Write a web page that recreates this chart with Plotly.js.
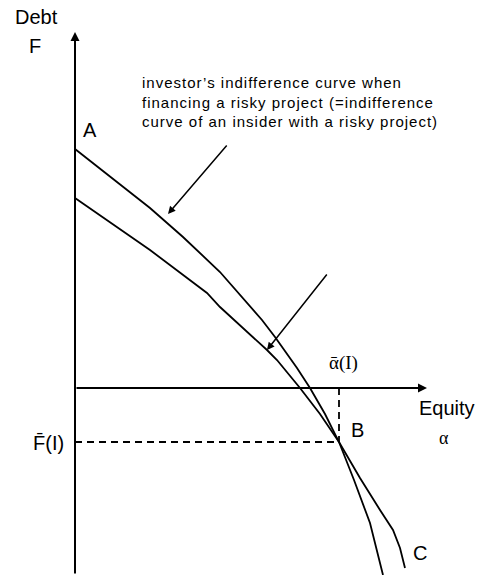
<!DOCTYPE html>
<html>
<head>
<meta charset="utf-8">
<script src="https://cdn.plot.ly/plotly-3.0.1.min.js"></script>
<style>html,body{margin:0;padding:0;background:#fff;}</style>
</head>
<body>
<div id="chart" style="width:479px;height:575px;"></div>
<script>
// Investor's indifference curve (risky project) – starts at A
const investorAlpha = [0, 0.40, 0.75, 1.08, 1.45, 1.87, 2.00, 2.22, 2.35, 2.50, 2.64, 2.79, 2.95, 3.08];
const investorF     = [2.39, 2.08, 1.80, 1.51, 1.16, 0.68, 0.51, 0.20, 0, -0.26, -0.54, -0.92, -1.35, -1.87];
// Second indifference curve – ends at C
const otherAlpha = [0, 0.35, 0.75, 1.32, 1.45, 1.92, 2.02, 2.25, 2.45, 2.64, 2.85, 3.05, 3.18, 3.25, 3.30];
const otherF     = [1.90, 1.66, 1.38, 0.95, 0.81, 0.38, 0.28, 0, -0.26, -0.54, -0.90, -1.22, -1.42, -1.60, -1.80];
// Point B: (alpha-bar(I), F-bar(I))
const alphaBar = 2.64;
const FBar = -0.54;
// Axis extents
const xAxisEnd = 3.52;
const yAxisTop = 3.56;
const yAxisBottom = -1.87;
const noteLines = [
  "investor\u2019s indifference curve when",
  "financing a risky project (=indifference",
  "curve of an insider with a risky project)"
];

const sans = "Liberation Sans, Arial, sans-serif";
const serif = "Liberation Serif, DejaVu Serif, Times New Roman, serif";

const traces = [
  {x: investorAlpha, y: investorF, mode: "lines", line: {color: "#000", width: 1.8}, hoverinfo: "skip"},
  {x: otherAlpha, y: otherF, mode: "lines", line: {color: "#000", width: 1.8}, hoverinfo: "skip"},
  {x: [alphaBar, alphaBar], y: [0, FBar], mode: "lines", line: {color: "#000", width: 1.8, dash: "7px,5px"}, hoverinfo: "skip"},
  {x: [0, alphaBar], y: [FBar, FBar], mode: "lines", line: {color: "#000", width: 1.8, dash: "7px,5px"}, hoverinfo: "skip"}
];

function arrow(x, y, ax, ay, w, s) {
  return {x: x, y: y, ax: ax, ay: ay, xref: "x", yref: "y", axref: "x", ayref: "y",
    text: "", showarrow: true, arrowhead: 2, arrowwidth: w, arrowsize: s, arrowcolor: "#000"};
}
function label(x, y, text, size, family) {
  return {x: x, y: y, xref: "x", yref: "y", text: text, showarrow: false,
    font: {family: family || sans, size: size, color: "#000"}, xanchor: "center", yanchor: "middle"};
}

const annotations = [
  arrow(0, yAxisTop, 0, yAxisBottom, 2, 0.9),
  arrow(xAxisEnd, 0, 0, 0, 2, 0.9),
  arrow(0.93, 1.74, 1.53, 2.44, 1.5, 1),
  arrow(1.92, 0.38, 2.53, 1.15, 1.5, 1),
  label(-0.39, 3.71, "Debt", 20),
  label(-0.40, 3.42, "F", 20),
  label(0.15, 2.58, "A", 20),
  label(3.72, -0.20, "Equity", 20),
  label(3.69, -0.50, "\u03b1", 18, serif),
  label(2.82, -0.42, "B", 20),
  label(3.45, -1.65, "C", 20),
  label(2.68, 0.25, "\u1FB1(I)", 19, serif),
  label(-0.27, -0.55, "F\u0304(I)", 20),
  {x: 0.65, y: 2.86, xref: "x", yref: "y", showarrow: false, xanchor: "left", yanchor: "middle", align: "left",
   text: noteLines.map(l => '<span style="letter-spacing:1px">' + l + '</span>').join("<br>"),
   font: {family: sans, size: 15, color: "#000"}}
];

const layout = {
  width: 479, height: 575,
  margin: {l: 0, r: 0, t: 0, b: 0, pad: 0},
  paper_bgcolor: "#fff", plot_bgcolor: "#fff",
  showlegend: false,
  xaxis: {range: [-0.75, 4.04], visible: false, fixedrange: true},
  yaxis: {range: [-1.87, 3.88], visible: false, fixedrange: true},
  annotations: annotations
};

Plotly.newPlot("chart", traces, layout, {staticPlot: true, displayModeBar: false});
</script>
</body>
</html>
